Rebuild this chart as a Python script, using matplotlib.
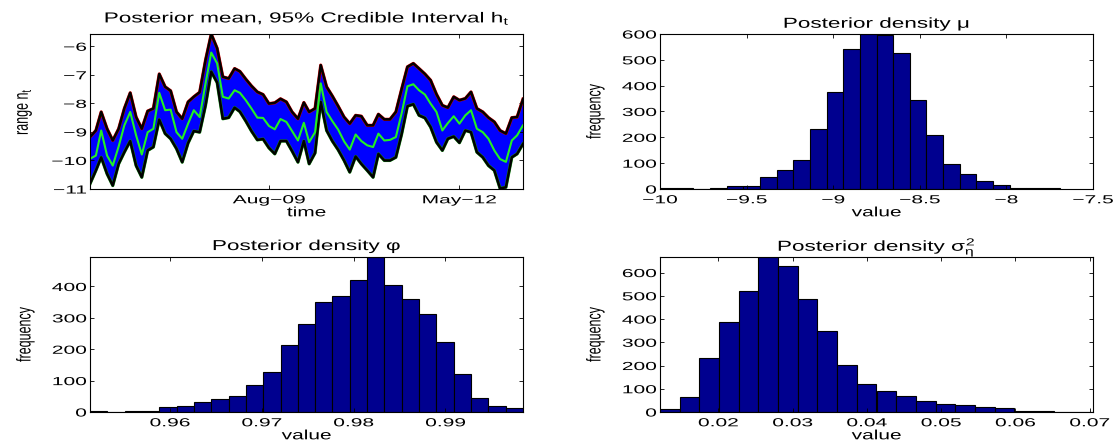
import numpy as np
import pandas as pd
import matplotlib
matplotlib.use("Agg")
import matplotlib.pyplot as plt
from matplotlib.patheffects import AbstractPathEffect
from matplotlib.transforms import Affine2D

# ---------------------------------------------------------------- data
# latent log-variance h_t: monthly posterior summaries
dates = pd.date_range("2007-01-01", "2013-04-01", freq="MS")
h_upper = [-9.18, -8.95, -8.30, -8.89, -9.30, -8.89, -8.18, -7.63, -8.48, -8.89,
           -8.27, -8.18, -6.97, -7.42, -7.56, -8.30, -8.54, -7.95, -7.77, -7.61,
           -6.48, -5.57, -6.07, -7.07, -7.13, -6.78, -6.88, -7.15, -7.39, -7.60,
           -7.69, -8.01, -7.98, -7.84, -7.95, -8.30, -8.54, -7.97, -8.30, -8.18,
           -6.66, -7.42, -7.74, -8.10, -8.48, -8.71, -8.42, -8.45, -8.77, -8.77,
           -8.38, -8.56, -8.56, -8.30, -7.51, -6.72, -6.60, -6.78, -6.97, -7.19,
           -7.68, -8.07, -8.15, -7.77, -7.89, -7.83, -7.60, -8.18, -8.30, -8.50,
           -8.65, -8.95, -9.06, -8.50, -8.48, -7.85]
h_mean = [-9.94, -9.83, -8.95, -9.83, -10.18, -9.51, -8.77, -8.30, -9.12, -9.79,
          -9.01, -8.89, -7.63, -8.24, -8.22, -9.01, -9.24, -8.71, -8.24, -8.48,
          -7.30, -6.22, -6.60, -7.77, -7.83, -7.54, -7.63, -7.89, -8.18, -8.50,
          -8.51, -8.79, -8.91, -8.55, -8.65, -8.97, -9.30, -8.68, -9.36, -9.01,
          -7.30, -8.30, -8.62, -8.92, -9.33, -9.62, -9.09, -9.32, -9.47, -9.53,
          -9.06, -9.30, -9.28, -9.18, -8.36, -7.40, -7.33, -7.54, -7.69, -8.01,
          -8.30, -8.95, -8.69, -8.45, -8.71, -8.42, -8.24, -8.89, -9.01, -9.24,
          -9.65, -9.95, -10.05, -9.30, -9.12, -8.77]
h_lower = [-10.82, -10.35, -9.89, -10.47, -10.88, -10.12, -9.71, -9.32, -10.18, -10.59,
           -9.65, -9.53, -8.57, -9.06, -9.24, -9.59, -10.06, -9.39, -8.97, -9.01,
           -8.07, -6.89, -7.27, -8.54, -8.50, -8.15, -8.29, -8.62, -8.97, -9.28,
           -9.25, -9.56, -9.77, -9.32, -9.32, -9.67, -10.06, -9.32, -10.12, -9.74,
           -7.95, -8.95, -9.32, -9.63, -10.00, -10.41, -9.86, -10.12, -10.35, -10.59,
           -9.77, -10.00, -10.00, -9.89, -9.09, -8.10, -8.03, -8.42, -8.51, -8.83,
           -9.36, -9.65, -9.24, -9.16, -9.38, -8.95, -9.01, -9.71, -9.89, -10.18,
           -10.35, -10.98, -10.94, -9.89, -9.77, -9.42]
h_ticks = ["2009-08-01", "2012-05-01"]
h_yticks = [-11, -10, -9, -8, -7, -6]

# posterior draws, binned
mu_counts = [5, 5, 0, 3, 10, 13, 45, 75, 114, 234, 376, 541,
             600, 598, 527, 345, 210, 96, 60, 32, 17, 5, 5, 3]
mu_range = (-10.0, -7.692)
mu_xticks = [-10, -9.5, -9, -8.5, -8, -7.5]

phi_counts = [3, 1, 2, 3, 15, 18, 32, 40, 50, 85, 126, 213, 282,
              351, 371, 421, 494, 405, 360, 313, 222, 120, 46, 18, 13]
phi_range = (0.9513, 0.99845)
phi_xticks = [0.96, 0.97, 0.98, 0.99]

sig_counts = [14, 65, 231, 387, 522, 667, 627, 485, 350, 204, 121,
              89, 67, 46, 36, 29, 22, 17, 3, 4, 1, 2]
sig_range = (0.01215, 0.07045)
sig_xticks = [0.02, 0.03, 0.04, 0.05, 0.06, 0.07]

# ---------------------------------------------------------------- style
plt.rcParams["font.family"] = ["Liberation Sans", "DejaVu Sans"]
plt.rcParams["mathtext.fontset"] = "custom"
plt.rcParams["mathtext.rm"] = "Liberation Sans"
plt.rcParams["mathtext.it"] = "Liberation Sans"
plt.rcParams["mathtext.bf"] = "Liberation Sans:bold"

BAR = "#00008F"
TICK_FS, TICK_SX = 8.4, 1.8
LAB_FS, LAB_SX = 9.7, 1.55
YLAB_FS, YLAB_SX = 9.0, 1.6
TIT_FS, TIT_SX = 10.4, 1.56


class Widen(AbstractPathEffect):
    """Draw text glyphs stretched horizontally about a chosen anchor."""

    def __init__(self, sx, anchor="center"):
        super().__init__()
        self.sx = sx
        self.anchor = anchor

    def draw_path(self, renderer, gc, tpath, affine, rgbFace=None):
        ext = tpath.get_extents(affine)
        if self.anchor == "right":
            x0 = ext.x1
        elif self.anchor == "left":
            x0 = ext.x0
        else:
            x0 = 0.5 * (ext.x0 + ext.x1)
        stretch = Affine2D().translate(-x0, 0).scale(self.sx, 1.0).translate(x0, 0)
        renderer.draw_path(gc, tpath, affine + stretch, rgbFace)


W, H = 1115, 441


def box(left, top, right, bottom):
    return [left / W, 1 - bottom / H, (right - left) / W, (bottom - top) / H]


def style(ax, title, xlabel, ylabel, title_pad):
    ax.tick_params(direction="in", top=True, right=True, length=3.2, width=0.6,
                   labelsize=TICK_FS, colors="black")
    ax.tick_params(axis="x", pad=3.8)
    ax.tick_params(axis="y", pad=2.5)
    for sp in ax.spines.values():
        sp.set_linewidth(0.8)
    for lbl in ax.get_xticklabels():
        lbl.set_path_effects([Widen(TICK_SX)])
    for lbl in ax.get_yticklabels():
        lbl.set_path_effects([Widen(TICK_SX, "right")])
    t = ax.set_title(title, fontsize=TIT_FS, pad=title_pad)
    t.set_path_effects([Widen(TIT_SX)])
    xl = ax.set_xlabel(xlabel, fontsize=LAB_FS)
    xl.set_path_effects([Widen(LAB_SX)])
    ax.xaxis.set_label_coords(0.5, -0.118)
    yl = ax.set_ylabel(ylabel, fontsize=YLAB_FS)
    yl.set_path_effects([Widen(YLAB_SX)])
    ax.yaxis.set_label_coords(-0.135, 0.5)


def draw_hist(ax, counts, lo, hi):
    edges = np.linspace(lo, hi, len(counts) + 1)
    centers = 0.5 * (edges[:-1] + edges[1:])
    ax.bar(centers, counts, width=edges[1] - edges[0], color=BAR,
           edgecolor="black", linewidth=0.8)
    ax.set_ylim(0, max(counts))


fig = plt.figure(figsize=(W / 100, H / 100), dpi=100)

# ---- h_t band
ax = fig.add_axes(box(90, 34, 523, 189))
ax.fill_between(dates, h_lower, h_upper, color="#0000FF", linewidth=0)
ax.plot(dates, h_upper, color="#E00000", lw=2.3)
ax.plot(dates, h_upper, color="black", lw=1.8)
ax.plot(dates, h_lower, color="#1A9A1A", lw=2.3)
ax.plot(dates, h_lower, color="black", lw=1.8)
ax.plot(dates, h_mean, color="#22F022", lw=1.5)
ax.set_xlim(dates[0], dates[-1])
ax.set_ylim(min(h_yticks), max(h_upper))
tick_dates = pd.to_datetime(h_ticks)
ax.set_xticks(tick_dates)
ax.set_xticklabels([d.strftime("%b") + "\u2212" + d.strftime("%y") for d in tick_dates])
ax.set_yticks(h_yticks)
style(ax, r"Posterior mean, 95% Credible Interval h$_\mathregular{t}$",
      "time", r"range n$_\mathregular{t}$", 8.3)

# ---- mu
ax = fig.add_axes(box(660, 34, 1093, 189))
draw_hist(ax, mu_counts, *mu_range)
ax.set_xlim(mu_xticks[0], mu_xticks[-1])
ax.set_xticks(mu_xticks)
ax.set_xticklabels(["\u2212" + format(-v, "g") for v in mu_xticks])
ax.set_yticks(range(0, 601, 100))
style(ax, "Posterior density \u03bc", "value", "frequency", 4.5)

# ---- phi
ax = fig.add_axes(box(90, 257, 523, 412))
draw_hist(ax, phi_counts, *phi_range)
ax.set_xlim(*phi_range)
ax.set_xticks(phi_xticks)
ax.set_xticklabels([format(v, ".2f") for v in phi_xticks])
ax.set_yticks(range(0, 401, 100))
style(ax, "Posterior density \u03c6", "value", "frequency", 5.0)

# ---- sigma_eta^2
ax = fig.add_axes(box(660, 257, 1093, 412))
draw_hist(ax, sig_counts, *sig_range)
ax.set_xlim(*sig_range)
ax.set_xticks(sig_xticks)
ax.set_xticklabels([format(v, ".2f") for v in sig_xticks])
ax.set_yticks(range(0, 601, 100))
style(ax, r"Posterior density $\sigma^2_\eta$", "value", "frequency", 4.5)

fig.savefig("out.png", dpi=100)
